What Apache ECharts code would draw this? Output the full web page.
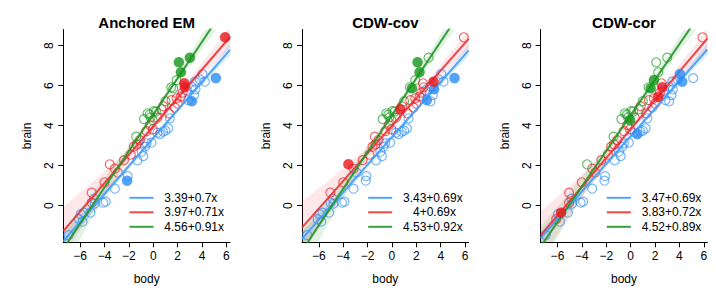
<!DOCTYPE html>
<html><head><meta charset="utf-8">
<script src="https://cdn.jsdelivr.net/npm/echarts@6/dist/echarts.min.js"></script>
<style>html,body{margin:0;padding:0;background:#fff}#c{width:716px;height:291px}</style>
</head><body><div id="c"></div>
<script>
// ---------- data ----------
const panelTitles = ['Anchored EM', 'CDW-cov', 'CDW-cor'];
const groupNames = ['b', 'r', 'g'];
const intercepts = [[3.39, 3.97, 4.56], [3.43, 4, 4.53], [3.47, 3.83, 4.52]];
const slopes = [[0.7, 0.71, 0.91], [0.69, 0.69, 0.92], [0.69, 0.72, 0.89]];
const xTicks = [-6, -4, -2, 0, 2, 4, 6];
const yTicks = [0, 2, 4, 6, 8];

const body = [-6.95, -6.10, -5.80, -5.70, -5.95, -5.05, -5.05, -5.15, -4.80, -4.85,
  -4.10, -3.90, -4.00, -3.15, -3.57, -3.15, -2.90, -2.40, -1.85, -2.10,
  -2.15, -1.30, -0.95, -0.82, -1.36, -1.40, -1.10, -0.68, -0.55, -0.15,
  -0.55, -0.27, -0.05, 0.33, 0.55, 1.00, 1.23, 1.36, 0.33, 0.68,
  1.28, -0.76, -0.46, -0.22, 0.05, 0.22, 1.00, 1.47, 1.64, 1.91,
  1.77, 1.50, 1.91, 2.26, 2.40, 2.54, 2.59, 2.73, 3.14, 3.35,
  3.41, 4.04, 4.23, 3.82, 2.86, 3.16, 3.46, 5.13, 5.89, 2.10,
  3.00, 2.26, -0.30, 2.00, 0.82, -1.60, 0.80, -0.05];
const brain = [-1.47, -0.67, -0.80, -0.35, -0.42, 0.65, 0.15, -0.35, 0.10, 0.35,
  0.15, 0.20, 1.17, 0.85, 2.07, 1.85, 1.65, 2.28, 2.55, 1.48,
  1.25, 2.27, 2.70, 2.48, 3.07, 3.45, 3.28, 2.95, 3.12, 3.15,
  3.73, 4.03, 3.82, 3.65, 3.58, 3.75, 3.87, 4.37, 4.40, 4.82,
  4.62, 4.33, 4.62, 4.42, 4.73, 4.70, 5.23, 5.92, 5.87, 6.28,
  4.90, 5.28, 5.37, 5.45, 5.65, 6.12, 5.92, 5.78, 5.95, 5.53,
  6.20, 6.58, 6.20, 6.32, 5.28, 5.22, 5.82, 6.38, 8.42, 7.17,
  7.40, 6.67, 4.55, 5.10, 4.98, 2.95, 3.70, 4.28];
// cluster label of each point in each panel (b = blue, r = red, g = green), 10 per block
const groupsAnchoredEM = 'bbbbbrrbbb bbrbrrrrrb bbbbrgrbbb rrrbbbbbrr rggggggggg rrrrrrrbbb bbbbbbbbrg gggrrrbg';
const groupsCDWcov     = 'bbbbbrbbbb bbrbrrbrrb bbbbrrrbbb rrrbbbbbrr rggggggggg rrrrrrrbbb rbbbbbbbrg gggrrrbg';
const groupsCDWcor     = 'brbrbrrbbb bbrbgrrrrb bbbbrgrbbb rrrbbbbbrg rggggggggg brrrrrrbbb bbbbbbbbrg gggrrrbg';
// indices of the solid (filled) points in each panel
const filledAnchoredEM = [20, 55, 56, 65, 67, 68, 69, 70, 71];
const filledCDWcov = [14, 39, 48, 60, 64, 66, 67, 69, 71];
const filledCDWcor = [3, 34, 48, 49, 53, 56, 61, 62, 77];

// confidence band half-widths read at bandX, per panel, per group (b, r, g)
const bandX = [-7.4, -5, -2.5, 0, 2.5, 5, 6.3];
const bandHalf = [
  [[0.35, 0.25, 0.15, 0.1, 0.1, 0.2, 0.3], [1.2, 0.75, 0.35, 0.15, 0.2, 0.4, 0.5], [1.0, 0.6, 0.3, 0.12, 0.25, 0.45, 0.55]],
  [[0.35, 0.25, 0.15, 0.1, 0.1, 0.2, 0.3], [1.3, 0.8, 0.4, 0.15, 0.2, 0.35, 0.45], [1.0, 0.6, 0.3, 0.12, 0.25, 0.45, 0.55]],
  [[0.35, 0.25, 0.15, 0.1, 0.1, 0.2, 0.3], [1.2, 0.75, 0.35, 0.15, 0.2, 0.4, 0.5], [1.0, 0.6, 0.3, 0.12, 0.25, 0.45, 0.55]]
];

// ---------- layout / style ----------
const groupsByPanel = [groupsAnchoredEM, groupsCDWcov, groupsCDWcor].map(s => s.replace(/ /g, ''));
const filledByPanel = [filledAnchoredEM, filledCDWcov, filledCDWcor];
const FONT = '"Liberation Sans", Arial, Helvetica, sans-serif';
const colors = ['#2b8cf5', '#e8161b', '#13961a'];
const openColors = ['rgba(43,140,245,0.8)', 'rgba(232,22,27,0.8)', 'rgba(19,150,26,0.8)'];
const lineColors = ['rgba(70,160,250,0.95)', 'rgba(235,50,55,0.9)', 'rgba(35,150,40,0.9)'];
const bandColors = ['rgba(43,140,245,0.16)', 'rgba(232,22,27,0.10)', 'rgba(19,150,26,0.12)'];
const xMin = -7.38, xMax = 6.29, yMin = -1.83, yMax = 8.81;
const panelW = 716 / 3;
const gLeft = 63.3, gTop = 29.5, gW = 166.7, gH = 212.8;
const minus = v => String(v).replace('-', '\u2212');

const grids = [], xAxes = [], yAxes = [], series = [], graphics = [];
for (let p = 0; p < 3; p++) {
  const off = p * panelW;
  grids.push({ left: gLeft + off, top: gTop, width: gW, height: gH });
  xAxes.push({
    type: 'value', gridIndex: p, min: xMin, max: xMax,
    axisLine: { show: true, onZero: false, lineStyle: { color: '#000', width: 1 } },
    axisTick: { show: true, customValues: xTicks, length: 5, lineStyle: { color: '#000', width: 1 } },
    axisLabel: { customValues: xTicks, formatter: minus, color: '#000', fontSize: 12, fontFamily: FONT, margin: 8 },
    splitLine: { show: false },
    name: 'body', nameLocation: 'middle', nameGap: 31,
    nameTextStyle: { color: '#000', fontSize: 12, fontFamily: FONT }
  });
  yAxes.push({
    type: 'value', gridIndex: p, min: yMin, max: yMax,
    axisLine: { show: true, onZero: false, lineStyle: { color: '#000', width: 1 } },
    axisTick: { show: true, customValues: yTicks, length: 5, lineStyle: { color: '#000', width: 1 } },
    axisLabel: { customValues: yTicks, formatter: minus, rotate: 90, color: '#000', fontSize: 12, fontFamily: FONT, margin: 8 },
    splitLine: { show: false },
    name: 'brain', nameLocation: 'middle', nameGap: 30,
    nameTextStyle: { color: '#000', fontSize: 12, fontFamily: FONT }
  });

  const grp = groupsByPanel[p], fl = filledByPanel[p];
  // bands
  for (let g = 0; g < 3; g++) {
    const a = intercepts[p][g], b = slopes[p][g], half = bandHalf[p][g];
    series.push({
      type: 'custom', xAxisIndex: p, yAxisIndex: p, silent: true, z: 1,
      data: [[0, 0]],
      renderItem: (params, api) => {
        const up = bandX.map((x, k) => api.coord([x, a + b * x + half[k]]));
        const lo = bandX.map((x, k) => api.coord([x, a + b * x - half[k]])).reverse();
        const cs = params.coordSys;
        return {
          type: 'polygon', shape: { points: up.concat(lo) }, style: { fill: bandColors[g] },
          clipPath: { type: 'rect', shape: { x: cs.x, y: cs.y, width: cs.width, height: cs.height } }
        };
      }
    });
  }
  // open points
  for (let g = 0; g < 3; g++) {
    const data = [];
    for (let i = 0; i < body.length; i++)
      if (grp[i] === groupNames[g] && fl.indexOf(i) < 0) data.push([body[i], brain[i]]);
    series.push({
      type: 'scatter', xAxisIndex: p, yAxisIndex: p, z: 2, symbol: 'circle', symbolSize: 9,
      itemStyle: { color: 'rgba(0,0,0,0)', borderColor: openColors[g], borderWidth: 1.2 },
      data
    });
  }
  // regression lines
  for (let g = 0; g < 3; g++) {
    const a = intercepts[p][g], b = slopes[p][g];
    series.push({
      type: 'line', xAxisIndex: p, yAxisIndex: p, z: 3, showSymbol: false, symbol: 'none', clip: true,
      lineStyle: { color: lineColors[g], width: 2 },
      data: [[xMin, a + b * xMin], [xMax, a + b * xMax]]
    });
  }
  // filled points
  for (let g = 0; g < 3; g++) {
    const data = [];
    for (let i = 0; i < body.length; i++)
      if (grp[i] === groupNames[g] && fl.indexOf(i) >= 0) data.push([body[i], brain[i]]);
    series.push({
      type: 'scatter', xAxisIndex: p, yAxisIndex: p, z: 4, symbol: 'circle', symbolSize: 10.5,
      itemStyle: { color: colors[g] }, data
    });
  }
  // title
  graphics.push({
    type: 'text', x: gLeft + off + gW / 2, y: 22.5,
    style: { text: panelTitles[p], textAlign: 'center', textVerticalAlign: 'middle', fill: '#000',
      font: 'bold 15px ' + FONT }
  });
  // legend
  const legY = [197.8, 212.3, 226.8];
  for (let g = 0; g < 3; g++) {
    graphics.push({
      type: 'line', shape: { x1: off + 129.5, y1: legY[g], x2: off + 153.5, y2: legY[g] },
      style: { stroke: lineColors[g], lineWidth: 2 }
    });
    const label = String(intercepts[p][g]).padStart(4, ' ') + '+' + slopes[p][g] + 'x';
    graphics.push({
      type: 'text', x: off + 164.3, y: legY[g],
      style: { text: label, textAlign: 'left', textVerticalAlign: 'middle', fill: '#000', font: '12px ' + FONT }
    });
  }
}

const chart = echarts.init(document.getElementById('c'), null, { renderer: 'svg', width: 716, height: 291 });
chart.setOption({
  animation: false,
  backgroundColor: '#fff',
  grid: grids, xAxis: xAxes, yAxis: yAxes, series, graphic: graphics
});
</script></body></html>
